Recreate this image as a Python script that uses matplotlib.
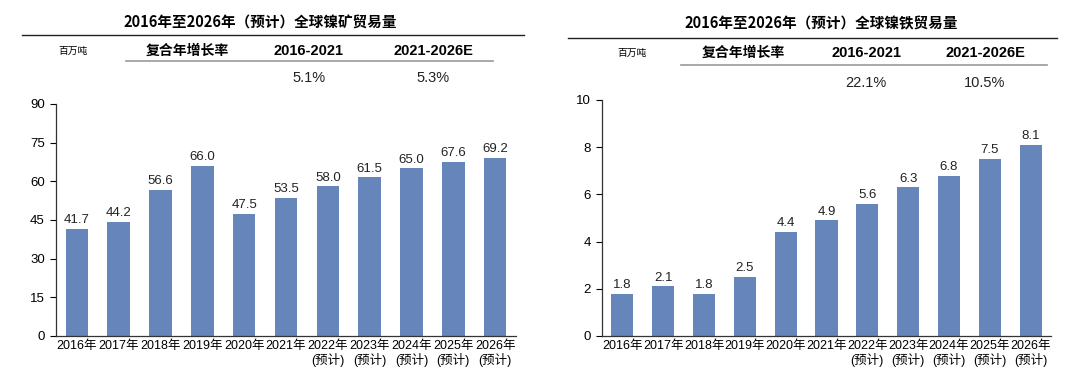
import matplotlib
matplotlib.use("Agg")
import matplotlib.pyplot as plt
from matplotlib.lines import Line2D

plt.rcParams['font.family'] = ['Liberation Sans', 'Noto Sans CJK SC', 'DejaVu Sans']

years = ["2016年", "2017年", "2018年", "2019年", "2020年", "2021年",
         "2022年\n(预计)", "2023年\n(预计)", "2024年\n(预计)",
         "2025年\n(预计)", "2026年\n(预计)"]
ore_values = [41.7, 44.2, 56.6, 66.0, 47.5, 53.5, 58.0, 61.5, 65.0, 67.6, 69.2]
feni_values = [1.8, 2.1, 1.8, 2.5, 4.4, 4.9, 5.6, 6.3, 6.8, 7.5, 8.1]
ore_title = "2016年至2026年（预计）全球镍矿贸易量"
feni_title = "2016年至2026年（预计）全球镍铁贸易量"
unit = "百万吨"
cagr_label = "复合年增长率"
periods = ["2016-2021", "2021-2026E"]
ore_cagr = ["5.1%", "5.3%"]
feni_cagr = ["22.1%", "10.5%"]
ore_yticks = [0, 15, 30, 45, 60, 75, 90]
feni_yticks = [0, 2, 4, 6, 8, 10]

W, H = 1080, 383
fig = plt.figure(figsize=(W / 100, H / 100), dpi=100)
BAR = "#6585BB"


def fx(px):
    return px / W


def fy(py):
    return 1 - py / H


def make_axes(left, right, top, bottom, values, yticks):
    ax = fig.add_axes([fx(left), fy(bottom), fx(right - left), fy(top) - fy(bottom)])
    x = list(range(len(values)))
    bars = ax.bar(x, values, width=0.54, color=BAR)
    ax.bar_label(bars, labels=[f"{v:.1f}" for v in values], padding=2,
                 fontsize=9.5, color="#222222")
    ax.set_xlim(-0.5, len(values) - 0.5)
    ax.set_ylim(yticks[0], yticks[-1])
    ax.set_yticks(yticks)
    ax.set_xticks(x)
    ax.set_xticklabels(years, fontsize=9, linespacing=1.1)
    ax.tick_params(axis='x', length=0, pad=3)
    ax.tick_params(axis='y', length=4, direction='out', labelsize=9.5, pad=4)
    for s in ["top", "right"]:
        ax.spines[s].set_visible(False)
    for s in ["left", "bottom"]:
        ax.spines[s].set_color("#333333")
        ax.spines[s].set_linewidth(0.9)
    return ax


make_axes(56, 516, 104, 336, ore_values, ore_yticks)
make_axes(602, 1051, 100, 336, feni_values, feni_yticks)


def header(title, tx, tline, unit_x, cagr_x, p_x, row_line, row_y, val_y, vals):
    fig.text(fx(tx), fy(23), title, ha='center', va='center', fontsize=10.5,
             fontweight='bold', family=['Noto Sans CJK SC'])
    fig.add_artist(Line2D([fx(tline[0]), fx(tline[1])], [fy(tline[2]), fy(tline[2])],
                          color="#222222", lw=1.0))
    fig.text(fx(unit_x), fy(row_y), unit, ha='center', va='center', fontsize=7,
             family=['Noto Sans CJK SC'])
    fig.text(fx(cagr_x), fy(row_y), cagr_label, ha='center', va='center', fontsize=10,
             fontweight='bold', family=['Noto Sans CJK SC'])
    for px, p, v in zip(p_x, periods, vals):
        fig.text(fx(px), fy(row_y), p, ha='center', va='center', fontsize=10.5,
                 fontweight='bold')
        fig.text(fx(px), fy(val_y), v, ha='center', va='center', fontsize=10.5,
                 color="#222222")
    fig.add_artist(Line2D([fx(row_line[0]), fx(row_line[1])], [fy(row_line[2]), fy(row_line[2])],
                          color="#999999", lw=1.2))


header(ore_title, 260, (22, 524, 35), 73, 187, [309, 433], (126, 493, 61), 51, 78, ore_cagr)
header(feni_title, 821, (568, 1057, 38), 632, 743, [866, 985], (681, 1047, 65), 53, 83, feni_cagr)

fig.savefig("out.png", dpi=100, facecolor="white")
